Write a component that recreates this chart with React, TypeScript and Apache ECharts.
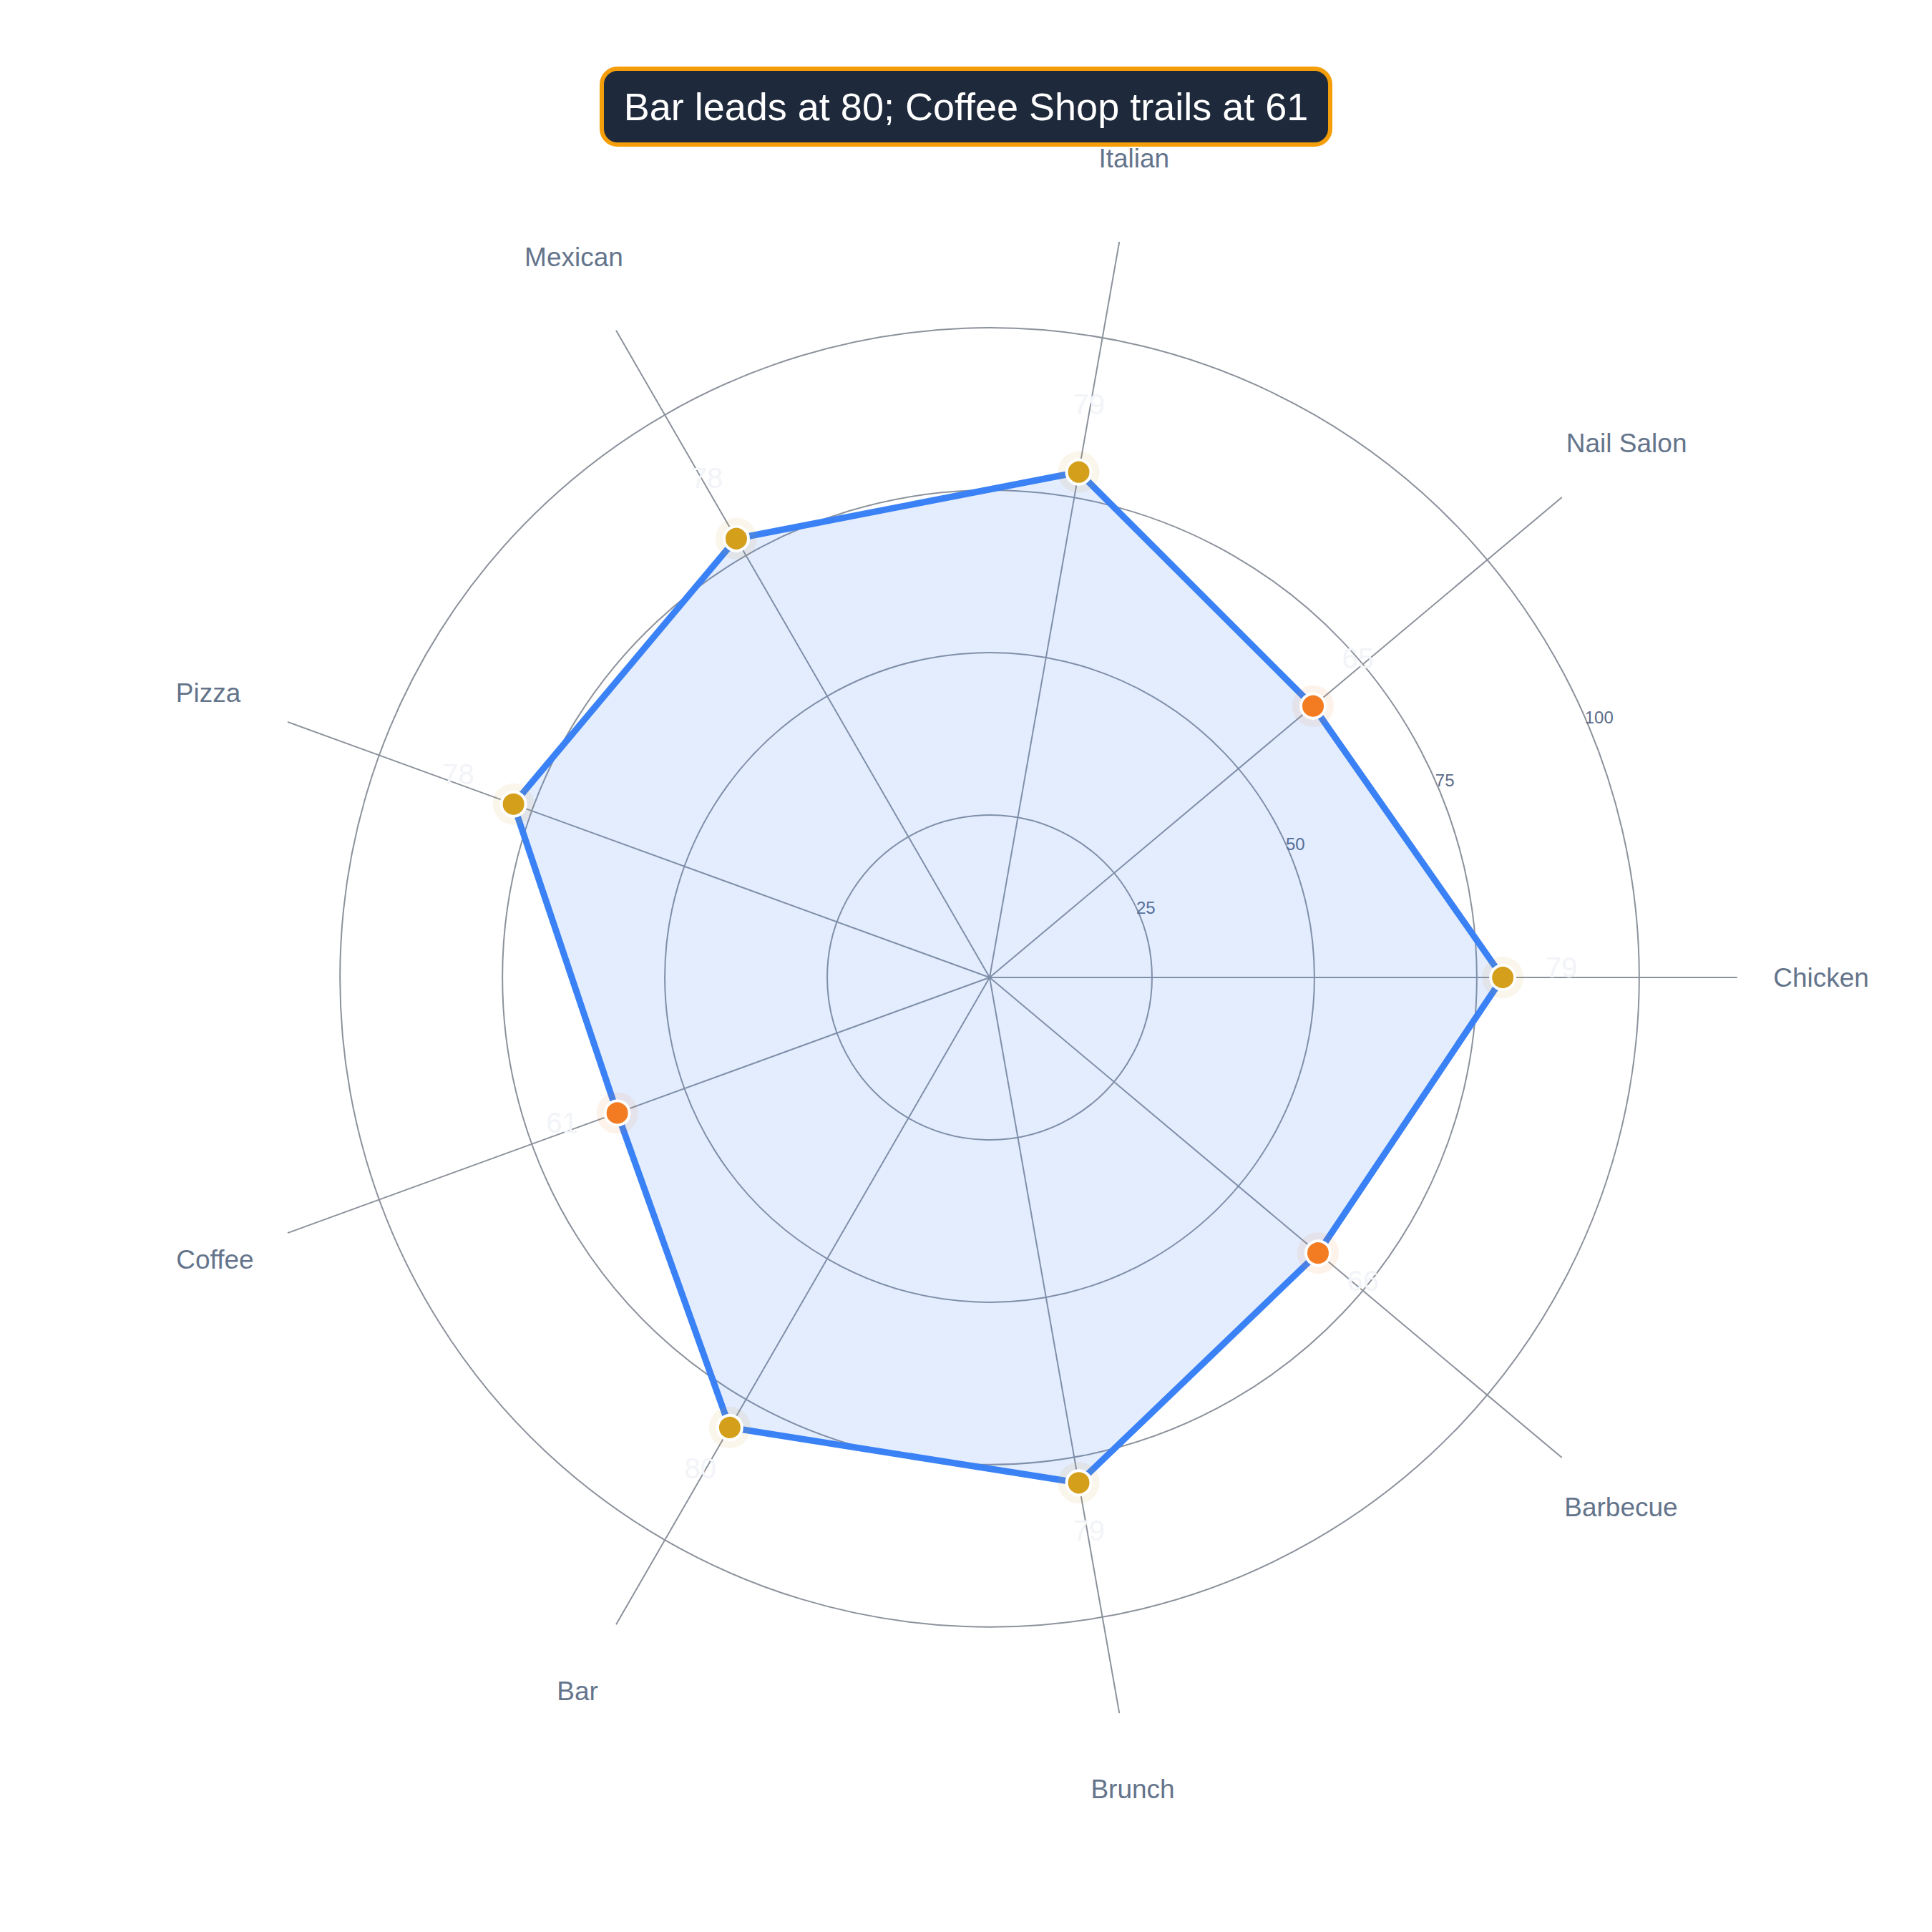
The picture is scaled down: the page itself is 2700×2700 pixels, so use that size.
import { useEffect, useRef } from "react";
import * as echarts from "echarts";

// data
const categories = ["Chicken", "Nail Salon", "Italian", "Mexican", "Pizza", "Coffee", "Bar", "Brunch", "Barbecue"];
const scores = [79, 65, 79, 78, 78, 61, 80, 79, 66];
const radialTicks = [25, 50, 75, 100];
const radialMax = 115;
const titleText = "Bar leads at 80; Coffee Shop trails at 61";

const FONT = "'Liberation Sans', Arial, Helvetica, sans-serif";
const CENTER = [1383, 1366];
const RADIUS = 1044;
const BLUE = "#3b82f6";
const GOLD = "#d4a01c";
const ORANGE = "#f37b22";
const GRID = "#8c929c";

const CAT_SIZE = 37;
const CAT_LINE = 44;
const CAT_MARGIN = -40;

export default function App() {
  const chartRef = useRef<HTMLDivElement | null>(null);

  useEffect(() => {
    if (!chartRef.current) return;
    const chart = echarts.init(chartRef.current, null, { renderer: "svg" });

    const mean = scores.reduce((a, b) => a + b, 0) / scores.length;
    const colorOf = (v: number) => (v >= mean ? GOLD : ORANGE);
    const step = 360 / categories.length;
    const labelOffset = (i: number) => {
      const a = (i * step * Math.PI) / 180;
      return [82 * Math.cos(a), -82 * Math.sin(a) - 14];
    };

    // centre each category name on a fixed radius by padding the text box
    const ctx = document.createElement("canvas").getContext("2d")!;
    ctx.font = `${CAT_SIZE}px ${FONT}`;
    const catItem = (name: string, i: number) => {
      const a = (i * step * Math.PI) / 180;
      const rc = Math.sin(a) < -0.1 ? 1152 : 1162;
      const r0 = RADIUS + CAT_MARGIN;
      const ax = r0 * Math.cos(a);
      const ay = -r0 * Math.sin(a);
      const tx = rc * Math.cos(a);
      const ty = -rc * Math.sin(a);
      const w = ctx.measureText(name).width;
      const h = CAT_LINE;
      let pl = 0, pr = 0, pt = 0, pb = 0;
      if (Math.abs(ax) / RADIUS < 0.3) {
        const d = tx - ax;
        if (d > 0) pl = 2 * d; else pr = -2 * d;
      } else if (ax > 0) {
        pl = tx - ax - w / 2;
      } else {
        pr = ax - w / 2 - tx;
      }
      if (Math.abs(ay) / RADIUS < 0.3) {
        const d = ty - ay;
        if (d > 0) pt = 2 * d; else pb = -2 * d;
      } else if (ay < 0) {
        pb = ay - h / 2 - ty;
      } else {
        pt = ty - ay - h / 2;
      }
      const pad = [pt, pr, pb, pl].map((p) => Math.max(0, p));
      return { value: name, textStyle: { padding: pad } };
    };

    // circles at 25..100 only, the 115 edge stays hidden
    const circleColors = ["rgba(0,0,0,0)", GRID, GRID, GRID, GRID, "rgba(0,0,0,0)"];

    const option = {
      animation: false,
      backgroundColor: "#ffffff",
      title: {
        text: titleText,
        left: "center",
        top: 96,
        padding: [21, 31],
        backgroundColor: "#1e293b",
        borderColor: "#f59e0b",
        borderWidth: 6,
        borderRadius: 22,
        textStyle: {
          color: "#ffffff",
          fontSize: 54,
          fontWeight: "normal",
          fontFamily: FONT,
          lineHeight: 64,
        },
        z: 10,
      },
      polar: [
        { center: CENTER, radius: RADIUS },
        { center: CENTER, radius: RADIUS },
      ],
      angleAxis: [
        {
          polarIndex: 0,
          type: "category",
          data: categories.map(catItem),
          boundaryGap: false,
          startAngle: 0,
          clockwise: false,
          axisLine: { show: false },
          axisTick: { show: false },
          axisLabel: {
            show: true,
            margin: CAT_MARGIN,
            fontSize: CAT_SIZE,
            lineHeight: CAT_LINE,
            color: "#64748b",
            fontFamily: FONT,
          },
          splitLine: { show: true, lineStyle: { color: GRID, width: 2 } },
        },
        {
          polarIndex: 1,
          type: "value",
          min: 0,
          max: 360,
          startAngle: 23,
          clockwise: false,
          axisLine: { show: false },
          axisTick: { show: false },
          axisLabel: { show: false },
          splitLine: { show: false },
        },
      ],
      radiusAxis: [
        {
          polarIndex: 0,
          type: "value",
          min: 0,
          max: radialMax,
          interval: 25,
          axisLine: { show: true, lineStyle: { color: GRID, width: 2 } },
          axisTick: { show: false },
          axisLabel: { show: false },
          splitLine: { show: false },
        },
        {
          polarIndex: 1,
          type: "value",
          min: 0,
          max: radialMax,
          interval: 25,
          axisLine: { show: false },
          axisTick: { show: false },
          splitLine: { show: true, lineStyle: { color: circleColors, width: 2 } },
          axisLabel: {
            show: true,
            margin: 10,
            align: "left",
            verticalAlign: "middle",
            fontSize: 24,
            color: "#5a6b87",
            fontFamily: FONT,
            formatter: (v: number) => (radialTicks.includes(v) ? String(v) : ""),
          },
        },
      ],
      radar: {
        center: CENTER,
        radius: RADIUS,
        startAngle: 0,
        shape: "circle",
        indicator: categories.map((name) => ({ name, min: 0, max: radialMax })),
        axisName: { show: false },
        axisLine: { show: false },
        axisTick: { show: false },
        axisLabel: { show: false },
        splitLine: { show: false },
        splitArea: { show: false },
      },
      series: [
        {
          type: "radar",
          z: 2,
          symbol: "none",
          lineStyle: { color: BLUE, width: 9 },
          areaStyle: { color: BLUE, opacity: 0.14 },
          data: [{ value: scores, name: "Score" }],
        },
        {
          type: "scatter",
          coordinateSystem: "polar",
          polarIndex: 0,
          z: 3,
          symbolSize: 58,
          silent: true,
          data: scores.map((v, i) => ({
            value: [v, categories[i]],
            itemStyle: { color: colorOf(v), opacity: 0.09 },
          })),
        },
        {
          type: "scatter",
          coordinateSystem: "polar",
          polarIndex: 0,
          z: 4,
          symbolSize: 34,
          itemStyle: { borderColor: "#ffffff", borderWidth: 4, opacity: 1 },
          label: {
            show: true,
            position: "inside",
            fontSize: 40,
            color: "#f2f4f8",
            fontFamily: FONT,
            formatter: (p: any) => String(p.value[0]),
          },
          data: scores.map((v, i) => ({
            value: [v, categories[i]],
            itemStyle: { color: colorOf(v) },
            label: { offset: labelOffset(i) },
          })),
        },
      ],
    };

    chart.setOption(option as any);

    return () => {
      chart.dispose();
    };
  }, []);

  return (
    <div
      ref={chartRef}
      style={{ position: "absolute", left: 0, top: 0, width: 2700, height: 2700, background: "#fff" }}
    />
  );
}
